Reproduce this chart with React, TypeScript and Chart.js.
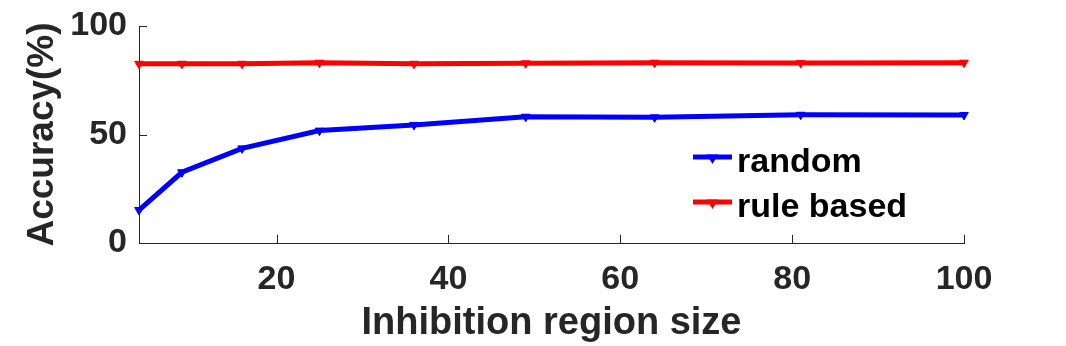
import React, { useEffect, useRef } from "react";
import { Chart, registerables } from "chart.js";

Chart.register(...registerables);

const regionSizes = [4, 9, 16, 25, 36, 49, 64, 81, 100];
const randomAcc = [15.2, 32.6, 43.6, 51.8, 54.4, 58.2, 57.9, 59.1, 59.0];
const ruleBasedAcc = [82.6, 82.6, 82.6, 83.1, 82.6, 82.8, 83.1, 82.9, 83.1];
const seriesLabels = ["random", "rule based"];
const xTickValues = [20, 40, 60, 80, 100];
const yTickValues = [0, 50, 100];
const xTitle = "Inhibition region size";
const yTitle = "Accuracy(%)";

const FONT = "'Liberation Sans', Arial, Helvetica, sans-serif";
const AXIS_COLOR = "#262626";
const TICK_LEN = 8;

function drawDownTriangle(ctx: CanvasRenderingContext2D, x: number, y: number, r: number, color: string) {
  ctx.save();
  ctx.fillStyle = color;
  ctx.strokeStyle = color;
  ctx.lineWidth = 1.5;
  ctx.beginPath();
  ctx.moveTo(x - r, y - r * 0.6);
  ctx.lineTo(x + r, y - r * 0.6);
  ctx.lineTo(x, y + r);
  ctx.closePath();
  ctx.fill();
  ctx.stroke();
  ctx.restore();
}

const inwardTicks = {
  id: "inwardTicks",
  beforeDatasetsDraw(chart: any) {
    const { ctx, scales } = chart;
    const x = scales.x;
    const y = scales.y;
    ctx.save();
    ctx.strokeStyle = AXIS_COLOR;
    ctx.lineWidth = 1;
    ctx.beginPath();
    x.ticks.forEach((t: any) => {
      const px = Math.round(x.getPixelForValue(t.value)) + 0.5;
      ctx.moveTo(px, y.bottom);
      ctx.lineTo(px, y.bottom - TICK_LEN);
    });
    y.ticks.forEach((t: any) => {
      const py = Math.round(y.getPixelForValue(t.value)) + 0.5;
      ctx.moveTo(x.left, py);
      ctx.lineTo(x.left + TICK_LEN, py);
    });
    ctx.stroke();
    ctx.restore();
  },
};

const innerLegend = {
  id: "innerLegend",
  afterDatasetsDraw(chart: any) {
    const { ctx, chartArea } = chart;
    const x0 = chartArea.left + 554;
    const y0 = chartArea.top + 131;
    const dy = 45;
    chart.data.datasets.forEach((ds: any, i: number) => {
      const yy = y0 + i * dy;
      ctx.save();
      ctx.strokeStyle = ds.borderColor;
      ctx.lineWidth = 5;
      ctx.beginPath();
      ctx.moveTo(x0, yy);
      ctx.lineTo(x0 + 39, yy);
      ctx.stroke();
      drawDownTriangle(ctx, x0 + 19.5, yy + 1, 4.5, ds.borderColor);
      ctx.fillStyle = "#000000";
      ctx.font = `bold 34px ${FONT}`;
      ctx.textAlign = "left";
      ctx.textBaseline = "alphabetic";
      ctx.fillText(ds.label, x0 + 44, yy + 15);
      ctx.restore();
    });
  },
};

export default function App() {
  const canvasRef = useRef<HTMLCanvasElement | null>(null);

  useEffect(() => {
    if (!canvasRef.current) return;
    const mk = (vals: number[]) => regionSizes.map((x, i) => ({ x, y: vals[i] }));
    const chart = new Chart(canvasRef.current, {
      type: "line",
      data: {
        datasets: [
          {
            label: seriesLabels[0],
            data: mk(randomAcc),
            borderColor: "#0000ff",
            backgroundColor: "#0000ff",
            borderWidth: 5,
            pointStyle: "triangle",
            rotation: 180,
            pointRadius: 5,
            pointBorderWidth: 1,
            clip: false as any,
          },
          {
            label: seriesLabels[1],
            data: mk(ruleBasedAcc),
            borderColor: "#ff0000",
            backgroundColor: "#ff0000",
            borderWidth: 5,
            pointStyle: "triangle",
            rotation: 180,
            pointRadius: 5,
            pointBorderWidth: 1,
            clip: false as any,
          },
        ],
      },
      options: {
        responsive: false,
        animation: false,
        events: [],
        layout: { padding: { top: 26, right: 102, left: 0, bottom: 0 } },
        plugins: {
          legend: { display: false },
          tooltip: { enabled: false },
        },
        scales: {
          x: {
            type: "linear",
            min: 4,
            max: 100,
            grid: { display: false, drawTicks: false },
            border: { display: true, color: AXIS_COLOR, width: 1 },
            afterBuildTicks: (scale: any) => {
              scale.ticks = xTickValues.map((v) => ({ value: v }));
            },
            afterFit: (scale: any) => {
              scale.height = 103;
              scale.paddingLeft = 0;
              scale.paddingRight = 0;
            },
            ticks: {
              color: AXIS_COLOR,
              padding: 16,
              font: { family: FONT, size: 34, weight: "bold" },
              maxRotation: 0,
              autoSkip: false,
            },
            title: {
              display: true,
              text: xTitle,
              color: AXIS_COLOR,
              font: { family: FONT, size: 38, weight: "bold", lineHeight: 1.2 },
              padding: { top: 0, bottom: 0 },
            },
          },
          y: {
            type: "linear",
            min: 0,
            max: 100,
            grid: { display: false, drawTicks: false },
            border: { display: true, color: AXIS_COLOR, width: 1 },
            afterBuildTicks: (scale: any) => {
              scale.ticks = yTickValues.map((v) => ({ value: v }));
            },
            afterFit: (scale: any) => {
              scale.width = 139;
              scale.paddingTop = 0;
              scale.paddingBottom = 0;
            },
            ticks: {
              color: AXIS_COLOR,
              padding: 12,
              font: { family: FONT, size: 34, weight: "bold" },
            },
            title: {
              display: true,
              text: yTitle,
              color: AXIS_COLOR,
              font: { family: FONT, size: 37, weight: "bold", lineHeight: 1.2 },
              padding: { top: 21, bottom: 0 },
            },
          },
        },
      },
      plugins: [inwardTicks, innerLegend],
    });
    return () => chart.destroy();
  }, []);

  return (
    <div style={{ position: "fixed", left: 0, top: 0, width: 1066, height: 346, background: "#ffffff" }}>
      <canvas ref={canvasRef} width={1066} height={346} />
    </div>
  );
}
